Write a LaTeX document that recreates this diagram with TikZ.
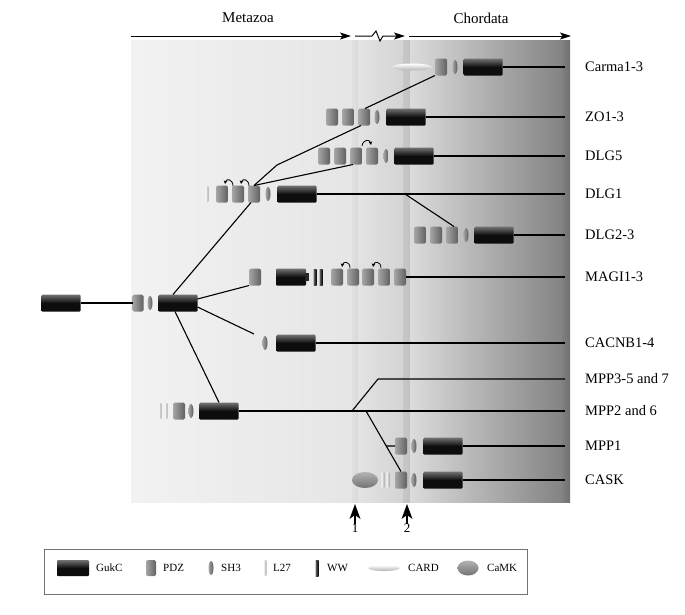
\documentclass[tikz,border=0pt]{standalone}
\usepackage{fontspec}
\setmainfont{Liberation Serif}
\usetikzlibrary{shapes.geometric,arrows.meta,calc}
\tikzset{
 dom/.style={inner sep=0pt, outer sep=0pt, draw=none},
 gukc/.style={dom, rectangle, rounded corners=1pt, minimum width=39pt, minimum height=17pt, top color=black!55, bottom color=black!95, middle color=black!95},
 pdz/.style={dom, rectangle, rounded corners=1.5pt, minimum width=12pt, minimum height=17pt, left color=black!35, right color=black!62},
 sh3/.style={dom, ellipse, minimum width=5pt, minimum height=14pt, left color=black!35, right color=black!65},
 lzs/.style={dom, rectangle, rounded corners=0.8pt, minimum width=3pt, minimum height=16pt, left color=white, right color=black!40},
 wwd/.style={dom, rectangle, minimum width=3pt, minimum height=16pt, left color=black!60, right color=black},
 card/.style={dom, ellipse, minimum width=40pt, minimum height=7pt, top color=white, bottom color=black!30},
 camk/.style={dom, ellipse, minimum width=26pt, minimum height=16pt, top color=black!30, bottom color=black!55},
 lab/.style={anchor=west, inner sep=0pt, font=\fontsize{14.5}{16}\selectfont},
 leg/.style={anchor=west, inner sep=0pt, font=\fontsize{11}{13}\selectfont},
 link/.style={line width=1.1pt},
 turn/.style={line width=0.8pt, -{Stealth[length=3.5pt,width=3.5pt]}},
 bigarrow/.style={line width=1pt, -{Stealth[length=11pt,width=7pt,inset=2.5pt]}},
 upshaft/.style={line width=1.2pt},
 uphead/.style={fill=black},
}
\begin{document}
\begin{tikzpicture}[x=1pt,y=-1pt]
\useasboundingbox (0,0) rectangle (685,614);
\fill[white] (0,0) rectangle (685,614);
% background panels
\shade[left color=black!5, right color=black!10] (131,40) rectangle (352,502);
\shade[left color=black!12, right color=black!15] (352,40) rectangle (358,502);
\shade[left color=black!11, right color=black!17] (358,40) rectangle (403,502);
\shade[left color=black!22, right color=black!24] (403,40) rectangle (410,502);
\shade[left color=black!14, right color=black!48] (410,40) rectangle (560,502);
\shade[left color=black!48, right color=black!56] (560,40) rectangle (570,502);
% headings
\node[font=\fontsize{15}{17}\selectfont] (meta) at (248,18) {Metazoa};
\node[font=\fontsize{15}{17}\selectfont] (chor) at (481,18) {Chordata};
\coordinate (t0) at (131,36); \coordinate (t1) at (351,36);
\coordinate (t2) at (355,36); \coordinate (t3) at (405,36);
\coordinate (t4) at (409,36); \coordinate (t5) at (571,36);
\coordinate (z1) at (372,36); \coordinate (z2) at (376,31);
\coordinate (z3) at (380,41); \coordinate (z4) at (383,36);
\draw[bigarrow] (t0) -- (t1);
\draw[bigarrow] (t2) -- (z1) -- (z2) -- (z3) -- (z4) -- (t3);
\draw[bigarrow] (t4) -- (t5);
% labels
\node[lab] (lcarma) at (585,67) {Carma1-3};
\node[lab] (lzo) at (585,117) {ZO1-3};
\node[lab] (ldlg5) at (585,156) {DLG5};
\node[lab] (ldlg1) at (585,194) {DLG1};
\node[lab] (ldlg2) at (585,235) {DLG2-3};
\node[lab] (lmagi) at (585,277) {MAGI1-3};
\node[lab] (lcac) at (585,343) {CACNB1-4};
\node[lab] (lmpp3) at (585,379) {MPP3-5 and 7};
\node[lab] (lmpp2) at (585,411) {MPP2 and 6};
\node[lab] (lmpp1) at (585,446) {MPP1};
\node[lab] (lcask) at (585,480) {CASK};
% Carma
\node[card] (cc) at (412,67) {};
\node[pdz] (carmap) at (441,67) {};
\node[sh3] (carmas) at (455,67) {};
\node[gukc] (carmag) at (483,67) {};
% ZO1-3
\node[pdz] (zp1) at (332,117) {};
\node[pdz] (zp2) at (348,117) {};
\node[pdz] (zp3) at (364,117) {};
\node[sh3] (zs) at (377,117) {};
\node[gukc] (zg) at (406,117) {};
% DLG5
\node[pdz] (d5p1) at (324,156) {};
\node[pdz] (d5p2) at (340,156) {};
\node[pdz] (d5p3) at (356,156) {};
\node[pdz] (d5p4) at (372,156) {};
\node[sh3] (d5s) at (386,156) {};
\node[gukc] (d5g) at (414,156) {};
% DLG1
\node[lzs] (d1l) at (207,194) {};
\node[pdz] (d1p1) at (222,194) {};
\node[pdz] (d1p2) at (238,194) {};
\node[pdz] (d1p3) at (254,194) {};
\node[sh3] (d1s) at (268,194) {};
\node[gukc] (d1g) at (297,194) {};
% DLG2-3
\node[pdz] (d2p1) at (420,235) {};
\node[pdz] (d2p2) at (436,235) {};
\node[pdz] (d2p3) at (452,235) {};
\node[sh3] (d2s) at (466,235) {};
\node[gukc] (d2g) at (494,235) {};
% MAGI
\node[pdz] (mp0) at (255,277) {};
\node[gukc, minimum width=30pt] (mg) at (291,277) {};
\node[dom, rectangle, minimum width=4pt, minimum height=8pt, fill=black!85] (mgn) at (307,277) {};
\node[wwd] (mw1) at (315,277) {};
\node[wwd] (mw2) at (321,277) {};
\node[pdz] (mp1) at (337,277) {};
\node[pdz] (mp2) at (353,277) {};
\node[pdz] (mp3) at (368,277) {};
\node[pdz] (mp4) at (384,277) {};
\node[pdz] (mp5) at (400,277) {};
% ancestral
\node[gukc] (a0g) at (61,303) {};
\node[pdz, minimum width=11pt] (ap) at (138,303) {};
\node[sh3] (as) at (150,303) {};
\node[gukc] (ag) at (178,303) {};
% CACNB
\node[sh3] (cs) at (265,343) {};
\node[gukc] (cg) at (296,343) {};
% MPP2/6
\node[lzs] (ml1) at (160,411) {};
\node[lzs] (ml2) at (166,411) {};
\node[pdz] (mpp) at (179,411) {};
\node[sh3] (mps) at (191,411) {};
\node[gukc] (mpg) at (219,411) {};
% MPP1
\node[pdz] (m1p) at (401,446) {};
\node[sh3] (m1s) at (414,446) {};
\node[gukc] (m1g) at (443,446) {};
% CASK
\node[camk] (ck) at (365,480) {};
\node[lzs] (cl1) at (383,480) {};
\node[lzs] (cl2) at (388,480) {};
\node[pdz] (ckp) at (401,480) {};
\node[sh3] (cks) at (414,480) {};
\node[gukc] (ckg) at (443,480) {};
% turn arrows
\draw[turn] (233,186) .. controls (233,179) and (226,178) .. (225,184);
\draw[turn] (249,186) .. controls (249,179) and (242,178) .. (241,184);
\draw[turn] (362,146) .. controls (363,139) and (370,139) .. (371,145);
\draw[turn] (350,268) .. controls (350,261) and (343,261) .. (342,267);
\draw[turn] (381,268) .. controls (381,261) and (374,261) .. (373,267);
% connectors: tree
\draw[link] (a0g.east) -- (ap.west);
\draw[link] ($(ag.north)+(-5,0)$) -- ($(d1p3.south)+(-3,0)$);
\draw[link] ($(ag.east)+(0,-4)$) -- (mp0.south west);
\coordinate (cend) at (254,334);
\draw[link] ($(ag.east)+(0,4)$) -- (cend);
\draw[link] ($(ag.south)+(-3,0)$) -- (mpg.north);
\coordinate (k1) at (277,165);
\draw[link] (d1p3.north) -- (k1) -- ($(zp3.south)+(-3,0)$);
\draw[link] (d1p3.north) -- ($(d5p3.south)+(-3,0)$);
\draw[link] ($(zp3.north)+(1,0)$) -- (carmap.south west);
\coordinate (b1) at (405,194);
\draw[link] (b1) -- ($(d2p3.north)+(2,0)$);
\coordinate (br1) at (352,411);
\coordinate (k2) at (378,379);
\draw[link] (br1) -- (k2) -- ($(lmpp3.west)+(-20,0)$);
\coordinate (br2) at (366,411);
\draw[link] (br2) -- (ckp.north);
\coordinate (k3) at ($(br2)!0.578!(ckp.north)$);
\draw[link] (k3) -- (m1p.west);
% connectors to labels
\draw[link] (carmag.east) -- ($(lcarma.west)+(-20,0)$);
\draw[link] (zg.east) -- ($(lzo.west)+(-20,0)$);
\draw[link] (d5g.east) -- ($(ldlg5.west)+(-20,0)$);
\draw[link] (d1g.east) -- ($(ldlg1.west)+(-20,0)$);
\draw[link] (d2g.east) -- ($(ldlg2.west)+(-20,0)$);
\draw[link] (mp5.east) -- ($(lmagi.west)+(-20,0)$);
\draw[link] (cg.east) -- ($(lcac.west)+(-20,0)$);
\draw[link] (mpg.east) -- ($(lmpp2.west)+(-20,0)$);
\draw[link] (m1g.east) -- ($(lmpp1.west)+(-20,0)$);
\draw[link] (ckg.east) -- ($(lcask.west)+(-20,0)$);
% bottom arrows
\node[font=\fontsize{13}{15}\selectfont, inner sep=0pt] (n1) at (355,528) {1};
\node[font=\fontsize{13}{15}\selectfont, inner sep=0pt] (n2) at (407,528) {2};
\coordinate (p1) at (355,504);
\coordinate (p2) at (407,504);
\draw[upshaft] (n1.north) -- ($(p1)+(0,8)$);
\draw[upshaft] (n2.north) -- ($(p2)+(0,8)$);
\fill[uphead] (p1) -- ($(p1)+(5.5,15)$) -- ($(p1)+(0,11)$) -- ($(p1)+(-5.5,15)$) -- cycle;
\fill[uphead] (p2) -- ($(p2)+(5.5,15)$) -- ($(p2)+(0,11)$) -- ($(p2)+(-5.5,15)$) -- cycle;
% legend
\draw[black!55, line width=0.6pt] (44,549) rectangle (527,594);
\node[gukc, minimum width=32pt, minimum height=16pt] (kg) at (73,568) {};
\node[leg] (tg) at (96,568) {GukC};
\node[pdz, minimum width=10pt, minimum height=16pt] (kp) at (151,568) {};
\node[leg] (tp) at (163,568) {PDZ};
\node[sh3] (ks) at (211,568) {};
\node[leg] (ts) at (221,568) {SH3};
\node[lzs] (kl) at (265,568) {};
\node[leg] (tl) at (273,568) {L27};
\node[wwd] (kw) at (317,568) {};
\node[leg] (tw) at (327,568) {WW};
\node[card, minimum width=32pt, minimum height=6pt] (kc) at (384,568) {};
\node[leg] (tc) at (408,568) {CARD};
\node[camk, minimum width=21pt, minimum height=15pt] (kk) at (468,568) {};
\node[leg] (tk) at (487,568) {CaMK};
\end{tikzpicture}
\end{document}
